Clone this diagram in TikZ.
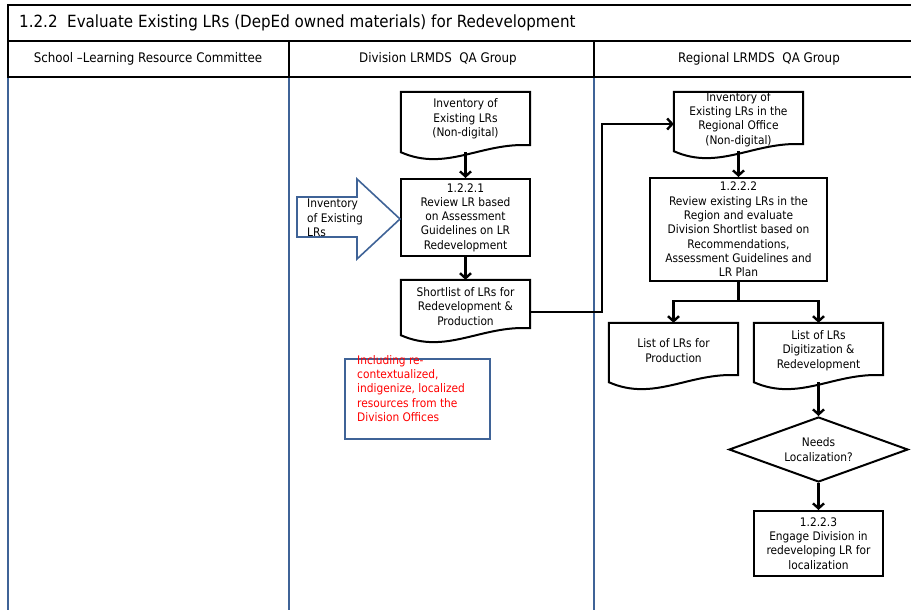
\documentclass[tikz,border=0pt]{standalone}
\usepackage{fontspec}
\setmainfont{DejaVu Sans Condensed}
\usetikzlibrary{arrows.meta,calc,shapes.geometric}
\definecolor{laneblue}{HTML}{3F6397}
\definecolor{notered}{HTML}{FF0000}

\tikzset{
  every node/.style={font=\fontsize{11.8}{14.3}\selectfont, align=center, inner sep=0pt},
  frameline/.style={line width=2pt, black},
  laneline/.style={line width=2pt, laneblue},
  procbox/.style={draw, line width=2pt, fill=white},
  docbox/.style={inner sep=0pt},
  docline/.style={line width=2pt, fill=white},
  decision/.style={draw, diamond, line width=2pt, fill=white, aspect=2.75},
  flowline/.style={line width=2.4pt},
  flow/.style={flowline, -{Straight Barb[length=5pt,width=11pt]}},
  notebox/.style={draw=laneblue, line width=2pt},
  blockarrow/.style={draw=laneblue, line width=1.6pt, fill=white, line join=miter},
  headtext/.style={font=\fontsize{13.2}{15}\selectfont},
}

% document symbol: flat top, wavy bottom, drawn round a named node
\newcommand\docoutline[1]{%
  \draw[docline] (#1.south west) -- (#1.north west) -- (#1.north east)
    -- ([yshift=7pt]#1.south east)
    .. controls ($(#1.south west)!0.62!(#1.south east)+(0,-10)$)
       and ($(#1.south west)!0.35!(#1.south east)+(0,20)$) .. (#1.south west) -- cycle;}

\begin{document}
\begin{tikzpicture}[x=1pt,y=-1pt]
\useasboundingbox (0,0) rectangle (911,610);

% swimlane frame
\draw[laneline] (8,77) -- (8,610);
\draw[laneline] (289,77) -- (289,610);
\draw[laneline] (594,77) -- (594,610);
\draw[frameline] (911,5) -- (8,5) -- (8,77) -- (911,77);
\draw[frameline] (8,41) -- (911,41);
\draw[frameline] (289,41) -- (289,77);
\draw[frameline] (594,41) -- (594,77);

\node[anchor=west, font=\fontsize{16.8}{19}\selectfont] (title) at (19,23)
  {1.2.2\ \ Evaluate Existing LRs (DepEd owned materials) for Redevelopment};
\node[headtext] (laneA) at (148,59) {School –Learning Resource Committee};
\node[headtext] (laneB) at (438,59) {Division LRMDS\ \ QA Group};
\node[headtext] (laneC) at (759,59) {Regional LRMDS\ \ QA Group};

% Division lane
\node[docbox, minimum width=129, minimum height=60] (inv) at (465.5,122) {};
\docoutline{inv}
\node at ([yshift=3pt]inv) {Inventory of\\Existing LRs\\(Non-digital)};

\node[procbox, minimum width=129, minimum height=77] (rev1) at (465.5,217.5)
  {1.2.2.1\\Review LR based\\on Assessment\\Guidelines on LR\\Redevelopment};

\node[docbox, minimum width=129, minimum height=55] (short) at (465.5,307.5) {};
\docoutline{short}
\node at ([yshift=1pt]short) {Shortlist of LRs for\\Redevelopment \&\\Production};

\draw[blockarrow] (297,197) -- (357,197) -- (357,179) -- (400,219)
  -- (357,259) -- (357,237) -- (297,237) -- cycle;
\node[anchor=west, align=left] (invext) at (307,218) {Inventory\\of Existing\\LRs};

\node[notebox, minimum width=145, minimum height=80] (note) at (417.5,399) {};
\node[anchor=north west, align=left, text=notered] (notetext) at (357,355)
  {Including re-\\contextualized,\\indigenize, localized\\resources from the\\Division Offices};

% Regional lane
\node[docbox, minimum width=129, minimum height=59] (reginv) at (738.5,121.5) {};
\docoutline{reginv}
\node at ([yshift=2pt]reginv) {Inventory of\\Existing LRs in the\\Regional Office\\(Non-digital)};

\node[procbox, minimum width=177, minimum height=103] (rev2) at (738.5,229.5)
  {1.2.2.2\\Review existing LRs in the\\Region and evaluate\\Division Shortlist based on\\Recommendations,\\Assessment Guidelines and\\LR Plan};

\node[docbox, minimum width=129, minimum height=59] (prod) at (673.5,352.5) {};
\docoutline{prod}
\node at ([yshift=2pt]prod) {List of LRs for\\Production};

\node[docbox, minimum width=129, minimum height=59] (digit) at (818.5,352.5) {};
\docoutline{digit}
\node at ([yshift=2pt]digit) {List of LRs\\Digitization \&\\Redevelopment};

\node[decision, minimum width=179, minimum height=65] (need) at (818.5,449.5)
  {Needs\\Localization?};

\node[procbox, minimum width=129, minimum height=65] (eng) at (818.5,543.5)
  {1.2.2.3\\Engage Division in\\redeveloping LR for\\localization};

% connectors
\draw[flow] (inv.south) -- (rev1.north);
\draw[flow] (rev1.south) -- (short.north);
\draw[flow] ([yshift=-4.5pt]short.east) -- ++(72,0) |- ([yshift=-2.5pt]reginv.west);
\draw[flow] (reginv.south) -- (rev2.north);
\draw[flowline] (rev2.south) -- ++(0,19) coordinate (split);
\draw[flow] (split) -| (prod.north);
\draw[flow] (split) -| (digit.north);
\draw[flow] (digit.south) -- (need.north);
\draw[flow] (need.south) -- (eng.north);
\end{tikzpicture}
\end{document}
